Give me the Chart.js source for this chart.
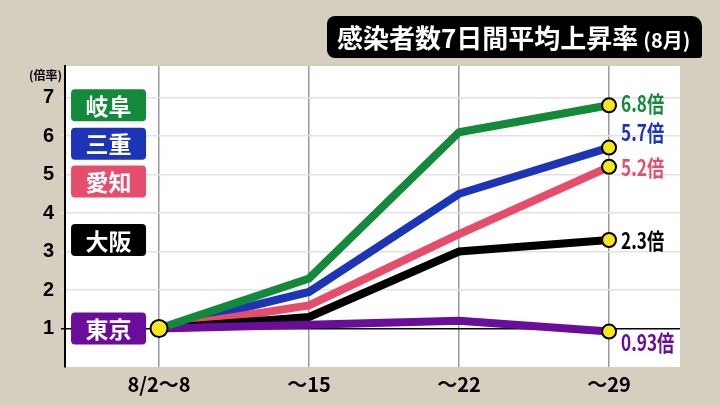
<!DOCTYPE html>
<html>
<head>
<meta charset="utf-8">
<script src="https://cdn.jsdelivr.net/npm/chart.js@4"></script>
<style>
  html, body { margin: 0; padding: 0; background: #d6cebe; }
  #wrap { width: 720px; height: 405px; }
</style>
</head>
<body>
<div id="wrap"><canvas id="chart" width="720" height="405"></canvas></div>
<script>
// 感染者数7日間平均上昇率 (8月)
const weeks = ['8/2〜8', '〜15', '〜22', '〜29'];
const prefectures = ['岐阜', '三重', '愛知', '大阪', '東京'];
const gifu  = [1, 2.3, 6.1, 6.8];
const mie   = [1, 1.95, 4.5, 5.7];
const aichi = [1, 1.6, 3.45, 5.2];
const osaka = [1, 1.3, 3.0, 3.3];
const tokyo = [1, 1.1, 1.2, 0.92];
const endLabels = ['6.8倍', '5.7倍', '5.2倍', '2.3倍', '0.93倍'];
const legendLevels = [6.8, 5.8, 4.82, 3.3, 1.0];   // where the name tags sit on the y scale
const yTicks = [1, 2, 3, 4, 5, 6, 7];

const colors = ['#138a3a', '#1c34b6', '#e64d6a', '#000000', '#6a0d9a'];
const series = [gifu, mie, aichi, osaka, tokyo];
const JP = "'Noto Sans CJK JP', 'Liberation Sans', sans-serif";

const datasets = series.map((vals, i) => ({
    label: prefectures[i],
    data: vals.map((v, k) => ({ x: k, y: v })),
    borderColor: colors[i],
    borderWidth: 8,
    borderJoinStyle: 'miter',
    tension: 0,
    pointBackgroundColor: '#f7e619',
    pointBorderColor: '#000',
    pointBorderWidth: 2,
    // yellow dots on the last week, and one on the shared starting point
    pointRadius: (ctx) => ctx.dataIndex === 3 ? 7 : (ctx.dataIndex === 0 && i === 0 ? 8.5 : 0),
    order: i === 0 ? 0 : 5 - i
}));

// white plot area + title box + name tags + end labels
const decor = {
    id: 'decor',
    beforeDraw(chart) {
        const { ctx, chartArea: a } = chart;
        ctx.save();
        ctx.fillStyle = '#ffffff';
        ctx.fillRect(a.left, a.top, a.right - a.left, a.bottom - a.top);
        ctx.restore();
    },
    afterDraw(chart) {
        const { ctx } = chart;
        const xs = chart.scales.x, ys = chart.scales.y;
        ctx.save();

        // title
        ctx.fillStyle = '#000';
        ctx.beginPath();
        ctx.roundRect(327, 16, 375, 42, [8, 10, 3, 8]);
        ctx.fill();
        ctx.fillStyle = '#fff';
        ctx.textBaseline = 'middle';
        ctx.textAlign = 'left';
        ctx.font = 'bold 26px ' + JP;
        ctx.fillText('感染者数7日間平均上昇率', 337, 38);
        const w = ctx.measureText('感染者数7日間平均上昇率').width;
        ctx.font = 'bold 20px ' + JP;
        ctx.fillText('(8月)', 337 + w + 5, 40);

        // unit label
        ctx.fillStyle = '#000';
        ctx.font = 'bold 12px ' + JP;
        ctx.textAlign = 'right';
        ctx.fillText('(倍率)', 62, 75);

        // name tags
        const tagRight = xs.getPixelForValue(0) - 13;
        prefectures.forEach((name, i) => {
            const cy = ys.getPixelForValue(legendLevels[i]);
            ctx.fillStyle = colors[i];
            ctx.beginPath();
            ctx.roundRect(tagRight - 75, cy - 16, 75, 32, 4);
            ctx.fill();
            ctx.fillStyle = '#fff';
            ctx.font = 'bold 23px ' + JP;
            ctx.textAlign = 'center';
            ctx.fillText(name, tagRight - 37.5, cy + 1);
        });

        // end labels
        const dy = [-3, -16, 0, 0, 10];
        series.forEach((vals, i) => {
            const px = xs.getPixelForValue(3) + 12;
            const py = ys.getPixelForValue(vals[3]) + dy[i];
            ctx.save();
            ctx.translate(px, py);
            ctx.scale(0.78, 1);
            ctx.fillStyle = colors[i];
            ctx.textAlign = 'left';
            ctx.font = 'bold 22px ' + JP;
            ctx.fillText(endLabels[i], 0, 1);
            ctx.restore();
        });
        ctx.restore();
    }
};

new Chart(document.getElementById('chart'), {
    type: 'line',
    data: { datasets },
    options: {
        responsive: false,
        animation: false,
        layout: { padding: { top: 66, right: 40, left: 0, bottom: 0 } },
        plugins: { legend: { display: false }, tooltip: { enabled: false } },
        scales: {
            x: {
                type: 'linear',
                min: -0.627,
                max: 3.473,
                afterFit: (s) => { s.height = 38; },
                afterBuildTicks: (s) => { s.ticks = weeks.map((_, k) => ({ value: k })); },
                ticks: {
                    callback: (v) => weeks[v] ?? '',
                    color: '#000',
                    font: { family: JP, size: 20, weight: 'bold' },
                    padding: 5,
                    maxRotation: 0
                },
                grid: { color: '#9a9a9a', lineWidth: 1.5, drawTicks: false },
                border: { display: false }
            },
            y: {
                min: 0,
                max: 7.82,
                afterFit: (s) => { s.width = 65; },
                afterBuildTicks: (s) => { s.ticks = [0, ...yTicks].map(v => ({ value: v })); },
                ticks: {
                    callback: (v) => v === 0 ? '' : v,
                    color: '#000',
                    font: { family: "'Liberation Sans', sans-serif", size: 20, weight: 'bold' },
                    padding: 7
                },
                grid: {
                    color: (c) => c.tick.value === 1 ? '#000' : (c.tick.value === 0 ? 'rgba(0,0,0,0)' : '#e2e2e2'),
                    lineWidth: 1.5,
                    drawTicks: true,
                    tickLength: 4
                },
                border: { display: true, color: '#000', width: 2 }
            }
        }
    },
    plugins: [decor]
});
</script>
</body>
</html>
